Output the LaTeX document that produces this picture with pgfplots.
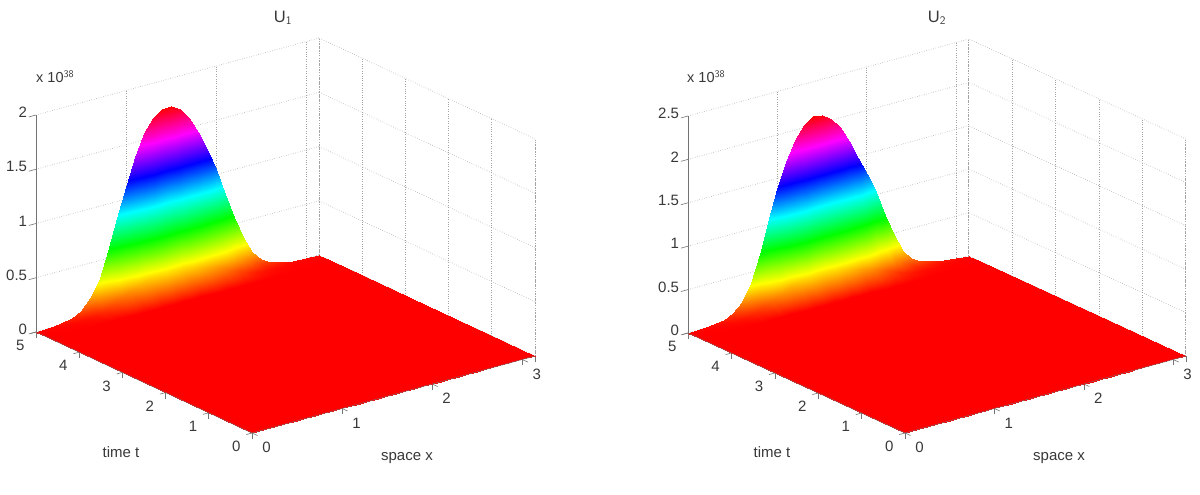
\documentclass[border=0pt]{standalone}
\usepackage{fontspec}
\setmainfont{Liberation Sans}
\usepackage{pgfplots}
\pgfplotsset{compat=1.18}

\definecolor{txt}{gray}{0.22}
\definecolor{axl}{gray}{0.45}
\definecolor{grd}{gray}{0.64}

\pgfplotsset{
  hsvmat/.style={colormap={hsvmat}{rgb255=(255,0,0) rgb255=(255,255,0) rgb255=(0,255,0) rgb255=(0,255,255) rgb255=(0,0,255) rgb255=(255,0,255) rgb255=(255,0,0)}},
  blowup/.style={
    hsvmat, anchor=origin,
    xmin=0, xmax=3.1416, ymin=0, ymax=5, zmin=0,
    xtick={0,1,2,3}, ytick={0,1,2,3,4,5},
    grid=major, grid style={grd, dotted, line width=0.8pt},
    axis line style={draw=none},
    tick style={axl, line width=0.6pt},
    xtick pos=left, ytick pos=left, ztick pos=left,
    ztick style={draw=none},
    tick align=outside, major tick length=6pt,
    /pgf/number format/assume math mode=true,
    tick label style={font=\fontsize{15}{18}\selectfont, text=txt},
    xticklabel style={anchor=center, xshift=9pt, yshift=-12pt},
    yticklabel style={anchor=center, xshift=-10pt, yshift=-12pt},
    zticklabel style={anchor=east},
    clip=false,
  },
}

\begin{document}
\begin{tikzpicture}[x=1pt,y=1pt]
\useasboundingbox (0,0) rectangle (1200,495);

\begin{axis}[blowup, at={(252pt,62pt)},
  x={(90.1pt,24.5pt)}, y={(-43.2pt,20.2pt)}, z={(0pt,108.5pt)},
  zmax=2, ztick={0,0.5,1,1.5,2}]
\addplot3[surf, shader=interp, mesh/rows=5, point meta min=0, point meta max=1.744] coordinates {
(0,0,0) (.2,0,0) (.4,0,0) (.5,0,0) (.6,0,0) (.7,0,0) (.8,0,0) (.9,0,0) (1,0,0) (1.1,0,0) (1.2,0,0) (1.3,0,0) (1.4,0,0) (1.5,0,0) (1.6,0,0) (1.7,0,0) (1.8,0,0) (1.9,0,0) (2,0,0) (2.1,0,0) (2.2,0,0) (2.3,0,0) (2.4,0,0) (2.5,0,0) (2.6,0,0) (2.8,0,0) (3,0,0) (3.1416,0,0)
(0,4.7,0) (.2,4.7,0) (.4,4.7,0) (.5,4.7,0) (.6,4.7,0) (.7,4.7,0) (.8,4.7,0) (.9,4.7,0) (1,4.7,0) (1.1,4.7,0) (1.2,4.7,0) (1.3,4.7,0) (1.4,4.7,0) (1.5,4.7,0) (1.6,4.7,0) (1.7,4.7,0) (1.8,4.7,0) (1.9,4.7,0) (2,4.7,0) (2.1,4.7,0) (2.2,4.7,0) (2.3,4.7,0) (2.4,4.7,0) (2.5,4.7,0) (2.6,4.7,0) (2.8,4.7,0) (3,4.7,0) (3.1416,4.7,0)
(0,4.9,0) (.2,4.9,.002) (.4,4.9,.005) (.5,4.9,.013) (.6,4.9,.026) (.7,4.9,.047) (.8,4.9,.085) (.9,4.9,.127) (1,4.9,.167) (1.1,4.9,.204) (1.2,4.9,.234) (1.3,4.9,.252) (1.4,4.9,.26) (1.5,4.9,.262) (1.6,4.9,.254) (1.7,4.9,.238) (1.8,4.9,.215) (1.9,4.9,.189) (2,4.9,.158) (2.1,4.9,.12) (2.2,4.9,.085) (2.3,4.9,.054) (2.4,4.9,.03) (2.5,4.9,.017) (2.6,4.9,.009) (2.8,4.9,.002) (3,4.9,.001) (3.1416,4.9,0)
(0,4.97,0) (.2,4.97,.006) (.4,4.97,.018) (.5,4.97,.043) (.6,4.97,.088) (.7,4.97,.155) (.8,4.97,.283) (.9,4.97,.423) (1,4.97,.555) (1.1,4.97,.68) (1.2,4.97,.78) (1.3,4.97,.84) (1.4,4.97,.868) (1.5,4.97,.872) (1.6,4.97,.845) (1.7,4.97,.793) (1.8,4.97,.718) (1.9,4.97,.63) (2,4.97,.525) (2.1,4.97,.4) (2.2,4.97,.283) (2.3,4.97,.18) (2.4,4.97,.1) (2.5,4.97,.055) (2.6,4.97,.03) (2.8,4.97,.008) (3,4.97,.003) (3.1416,4.97,0)
(0,5,0) (.2,5,.012) (.4,5,.035) (.5,5,.085) (.6,5,.175) (.7,5,.31) (.8,5,.565) (.9,5,.845) (1,5,1.11) (1.1,5,1.36) (1.2,5,1.56) (1.3,5,1.68) (1.4,5,1.735) (1.5,5,1.744) (1.6,5,1.69) (1.7,5,1.585) (1.8,5,1.435) (1.9,5,1.26) (2,5,1.05) (2.1,5,.8) (2.2,5,.565) (2.3,5,.36) (2.4,5,.2) (2.5,5,.11) (2.6,5,.06) (2.8,5,.015) (3,5,.005) (3.1416,5,0)
};
\draw[axl, line width=0.7pt] (axis cs:0,5,0) -- (axis cs:0,5,2);
\draw[axl, line width=0.4pt] (axis cs:0,5,0) -- (axis cs:0,0,0) -- (axis cs:3.1416,0,0);
\draw[grd, dotted, line width=0.8pt] (axis cs:3.1416,5,0) -- (axis cs:3.1416,5,2);
\draw[grd, dotted, line width=0.8pt] (axis cs:3.1416,0,0) -- (axis cs:3.1416,0,2);
\pgfplotsinvokeforeach{0,0.5,1,1.5,2}{\draw[axl, line width=0.6pt] (axis cs:0,5,#1) -- (axis cs:-0.08,5,#1);}
\end{axis}

\begin{axis}[blowup, at={(905pt,62pt)},
  x={(89.4pt,24.5pt)}, y={(-43.4pt,20pt)}, z={(0pt,86.8pt)},
  zmax=2.5, ztick={0,0.5,1,1.5,2,2.5}]
\addplot3[surf, shader=interp, mesh/rows=5, point meta min=0, point meta max=2.105] coordinates {
(0,0,0) (.2,0,0) (.4,0,0) (.5,0,0) (.6,0,0) (.7,0,0) (.8,0,0) (.9,0,0) (1,0,0) (1.1,0,0) (1.2,0,0) (1.3,0,0) (1.4,0,0) (1.5,0,0) (1.6,0,0) (1.7,0,0) (1.8,0,0) (1.9,0,0) (2,0,0) (2.1,0,0) (2.2,0,0) (2.3,0,0) (2.4,0,0) (2.5,0,0) (2.6,0,0) (2.8,0,0) (3,0,0) (3.1416,0,0)
(0,4.7,0) (.2,4.7,0) (.4,4.7,0) (.5,4.7,0) (.6,4.7,0) (.7,4.7,0) (.8,4.7,0) (.9,4.7,0) (1,4.7,0) (1.1,4.7,0) (1.2,4.7,0) (1.3,4.7,0) (1.4,4.7,0) (1.5,4.7,0) (1.6,4.7,0) (1.7,4.7,0) (1.8,4.7,0) (1.9,4.7,0) (2,4.7,0) (2.1,4.7,0) (2.2,4.7,0) (2.3,4.7,0) (2.4,4.7,0) (2.5,4.7,0) (2.6,4.7,0) (2.8,4.7,0) (3,4.7,0) (3.1416,4.7,0)
(0,4.9,0) (.2,4.9,.002) (.4,4.9,.006) (.5,4.9,.013) (.6,4.9,.028) (.7,4.9,.057) (.8,4.9,.103) (.9,4.9,.153) (1,4.9,.207) (1.1,4.9,.249) (1.2,4.9,.282) (1.3,4.9,.305) (1.4,4.9,.316) (1.5,4.9,.313) (1.6,4.9,.302) (1.7,4.9,.284) (1.8,4.9,.255) (1.9,4.9,.223) (2,4.9,.19) (2.1,4.9,.155) (2.2,4.9,.111) (2.3,4.9,.072) (2.4,4.9,.041) (2.5,4.9,.024) (2.6,4.9,.015) (2.8,4.9,.005) (3,4.9,.002) (3.1416,4.9,0)
(0,4.97,0) (.2,4.97,.006) (.4,4.97,.02) (.5,4.97,.043) (.6,4.97,.094) (.7,4.97,.19) (.8,4.97,.343) (.9,4.97,.51) (1,4.97,.69) (1.1,4.97,.83) (1.2,4.97,.94) (1.3,4.97,1.015) (1.4,4.97,1.053) (1.5,4.97,1.045) (1.6,4.97,1.005) (1.7,4.97,.945) (1.8,4.97,.85) (1.9,4.97,.743) (2,4.97,.633) (2.1,4.97,.515) (2.2,4.97,.37) (2.3,4.97,.24) (2.4,4.97,.135) (2.5,4.97,.08) (2.6,4.97,.05) (2.8,4.97,.018) (3,4.97,.006) (3.1416,4.97,0)
(0,5,0) (.2,5,.012) (.4,5,.04) (.5,5,.085) (.6,5,.188) (.7,5,.38) (.8,5,.685) (.9,5,1.02) (1,5,1.38) (1.1,5,1.66) (1.2,5,1.88) (1.3,5,2.03) (1.4,5,2.105) (1.5,5,2.09) (1.6,5,2.01) (1.7,5,1.89) (1.8,5,1.7) (1.9,5,1.485) (2,5,1.265) (2.1,5,1.03) (2.2,5,.74) (2.3,5,.48) (2.4,5,.27) (2.5,5,.16) (2.6,5,.1) (2.8,5,.035) (3,5,.012) (3.1416,5,0)
};
\draw[axl, line width=0.7pt] (axis cs:0,5,0) -- (axis cs:0,5,2.5);
\draw[axl, line width=0.4pt] (axis cs:0,5,0) -- (axis cs:0,0,0) -- (axis cs:3.1416,0,0);
\draw[grd, dotted, line width=0.8pt] (axis cs:3.1416,5,0) -- (axis cs:3.1416,5,2.5);
\draw[grd, dotted, line width=0.8pt] (axis cs:3.1416,0,0) -- (axis cs:3.1416,0,2.5);
\pgfplotsinvokeforeach{0,0.5,1,1.5,2,2.5}{\draw[axl, line width=0.6pt] (axis cs:0,5,#1) -- (axis cs:-0.08,5,#1);}
\end{axis}

\begin{scope}[every node/.style={text=txt, inner sep=0pt}]
\node[font=\fontsize{16.5}{18}\selectfont] at (283,477) {U$_{\mathsf{1}}$};
\node[font=\fontsize{16.5}{18}\selectfont] at (937,477) {U$_{\mathsf{2}}$};
\node[font=\fontsize{14.5}{16}\selectfont, anchor=west] at (36,418) {x 10$^{\mathsf{38}}$};
\node[font=\fontsize{14.5}{16}\selectfont, anchor=west] at (687,418) {x 10$^{\mathsf{38}}$};
\node[font=\fontsize{15}{16}\selectfont] at (121,43) {time t};
\node[font=\fontsize{15}{16}\selectfont] at (407,37) {space x};
\node[font=\fontsize{15}{16}\selectfont] at (772,43) {time t};
\node[font=\fontsize{15}{16}\selectfont] at (1059,37) {space x};
\end{scope}
\end{tikzpicture}
\end{document}
